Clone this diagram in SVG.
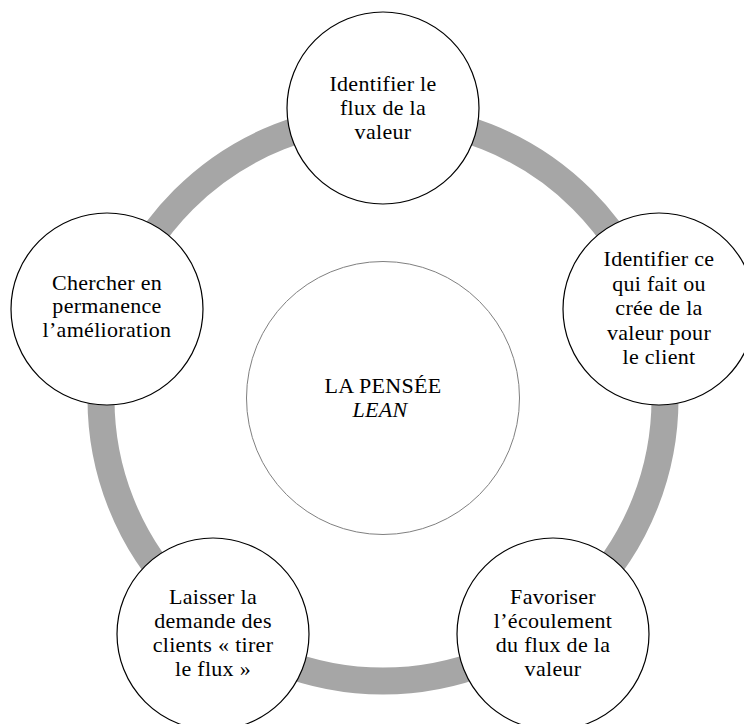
<svg xmlns="http://www.w3.org/2000/svg" width="744" height="724" viewBox="0 0 744 724">
<style>
.ring{fill:none;stroke:#a6a6a6;stroke-width:27}
.node circle{fill:#fff;stroke:#000;stroke-width:1.2}
.center circle{fill:#fff;stroke:#808080;stroke-width:1}
text{font-family:"Liberation Serif","Times New Roman",serif;font-size:22px;fill:#000;text-anchor:middle;letter-spacing:0.3px}
.it{font-style:italic}
</style>
<rect width="744" height="724" fill="#fff"/>
<g id="connectors">
<circle class="ring" cx="383" cy="399" r="282"/>
</g>
<g id="center" class="center">
<circle cx="383" cy="398" r="136.5"/>
<text x="383" y="393">LA PENSÉE</text>
<text x="380" y="417" class="it">LEAN</text>
</g>
<g id="n1" class="node">
<circle cx="383" cy="108" r="96"/>
<text x="383" y="91">Identifier le</text>
<text x="383" y="115">flux de la</text>
<text x="383" y="139">valeur</text>
</g>
<g id="n2" class="node">
<circle cx="659" cy="309" r="96"/>
<text x="659" y="266">Identifier ce</text>
<text x="659" y="290.5">qui fait ou</text>
<text x="659" y="315">crée de la</text>
<text x="659" y="339.5">valeur pour</text>
<text x="659" y="364">le client</text>
</g>
<g id="n3" class="node">
<circle cx="553" cy="634" r="96"/>
<text x="553" y="604">Favoriser</text>
<text x="553" y="628">l’écoulement</text>
<text x="553" y="652">du flux de la</text>
<text x="553" y="676">valeur</text>
</g>
<g id="n4" class="node">
<circle cx="213" cy="634" r="96"/>
<text x="213" y="604">Laisser la</text>
<text x="213" y="628">demande des</text>
<text x="213" y="652">clients « tirer</text>
<text x="213" y="676">le flux »</text>
</g>
<g id="n5" class="node">
<circle cx="107" cy="309" r="96"/>
<text x="107" y="290">Chercher en</text>
<text x="107" y="313">permanence</text>
<text x="107" y="337">l’amélioration</text>
</g>
</svg>
